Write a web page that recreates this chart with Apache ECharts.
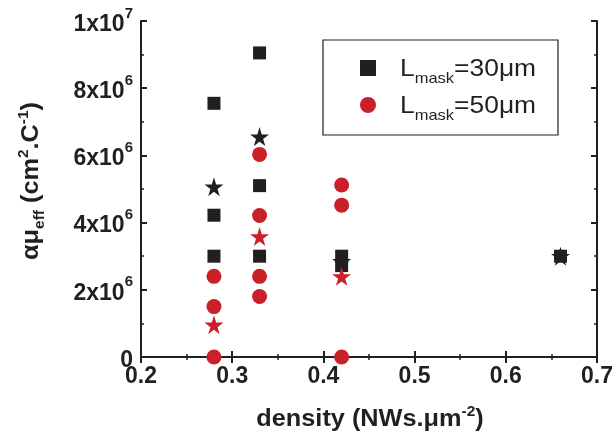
<!DOCTYPE html>
<html><head><meta charset="utf-8">
<script src="https://cdn.jsdelivr.net/npm/echarts@6/dist/echarts.min.js"></script>
<style>html,body{margin:0;padding:0;background:#fff}#c{width:616px;height:437px}</style>
</head><body><div id="c"></div>
<script>
// Data
var sq30X = [0.28, 0.28, 0.28, 0.33, 0.33, 0.33, 0.42, 0.42, 0.66];
var sq30Y = [7.55e6, 4.22e6, 3.0e6, 9.05e6, 5.1e6, 3.0e6, 3.0e6, 2.72e6, 3.0e6];
var circ50X = [0.28, 0.28, 0.28, 0.33, 0.33, 0.33, 0.33, 0.42, 0.42, 0.42];
var circ50Y = [2.4e6, 1.5e6, 0, 6.03e6, 4.21e6, 2.4e6, 1.8e6, 5.12e6, 4.52e6, 0];
var star30X = [0.28, 0.33, 0.42, 0.66];
var star30Y = [5.07e6, 6.56e6, 2.85e6, 3.0e6];
var star50X = [0.28, 0.33, 0.42];
var star50Y = [0.96e6, 3.59e6, 2.4e6];
var xTicks = [0.2, 0.3, 0.4, 0.5, 0.6, 0.7];
var yTickLabels = {0: '0', 2e6: '2x10^6', 4e6: '4x10^6', 6e6: '6x10^6', 8e6: '8x10^6', 1e7: '1x10^7'};
var seriesNames = ['L30', 'L50'];
var legendLabels = ['=30μm', '=50μm'];

var BLACK = '#231f20', RED = '#c9202a';
var STAR = 'path://M50,0 L61,35 L98,35 L68,57 L79,91 L50,70 L21,91 L32,57 L2,35 L39,35 Z';
function zip(xs, ys){ return xs.map(function(x,i){ return [x, ys[i]]; }); }

var chart = echarts.init(document.getElementById('c'), null, {renderer:'canvas'});
var FONT = 'Liberation Sans';
var axisCommon = {
  axisLine:{show:true, lineStyle:{color:BLACK, width:2}},
  axisTick:{show:true, inside:true, length:6, lineStyle:{color:BLACK, width:2}},
  minorTick:{show:true, splitNumber:2, length:3, lineStyle:{color:BLACK, width:1.5}},
  splitLine:{show:false}
};
function legendText(i, y){
  return {type:'text', x:400, y:y, scaleX:1.1, style:{
    text:'{l|L}{sub|mask}{l|' + legendLabels[i] + '}', align:'left', verticalAlign:'middle',
    rich:{
      l:{fontFamily:FONT, fontSize:24, fill:BLACK, lineHeight:34, verticalAlign:'middle'},
      sub:{fontFamily:FONT, fontSize:15, fill:BLACK, lineHeight:12, verticalAlign:'bottom'}
    }}};
}
var option = {
  animation:false,
  backgroundColor:'#fff',
  grid:{left:141, right:19, top:21, bottom:80, containLabel:false},
  xAxis:[
    Object.assign({type:'value', position:'bottom', min:0.2, max:0.7, interval:0.1,
      axisLabel:{margin:8, fontFamily:FONT, fontWeight:'bold', fontSize:23, color:BLACK,
        formatter:function(v){ return xTicks.indexOf(Math.round(v*10)/10)>=0 ? v.toFixed(1) : ''; }}}, axisCommon),
    Object.assign({type:'value', position:'top', min:0.2, max:0.7, interval:0.1, axisLabel:{show:false}}, axisCommon)
  ],
  yAxis:[
    Object.assign({type:'value', position:'left', min:0, max:1e7, interval:2e6,
      axisLabel:{margin:8, fontFamily:FONT, fontWeight:'bold', color:BLACK,
        formatter:function(v){
          var s = yTickLabels[v]; if (s===undefined) return '';
          if (s.indexOf('^')<0) return '{m|'+s+'}';
          var p = s.split('^'); return '{m|'+p[0]+'}{s|'+p[1]+'}';
        },
        rich:{
          m:{fontFamily:FONT, fontWeight:'bold', fontSize:23, color:BLACK, lineHeight:30, verticalAlign:'bottom'},
          s:{fontFamily:FONT, fontWeight:'bold', fontSize:15, color:BLACK, lineHeight:12, verticalAlign:'top'}
        }}}, axisCommon),
    Object.assign({type:'value', position:'right', min:0, max:1e7, interval:2e6, axisLabel:{show:false}}, axisCommon)
  ],
  legend:{
    orient:'vertical', left:360, top:60, padding:0, itemWidth:16, itemHeight:16, itemGap:21,
    data:[{name:seriesNames[0], icon:'rect'}, {name:seriesNames[1], icon:'circle'}],
    formatter:function(){ return ''; }
  },
  graphic:[
    {type:'rect', shape:{x:323, y:40, width:235, height:95}, style:{fill:'none', stroke:BLACK, lineWidth:1.2}, z:-1},
    legendText(0, 69),
    legendText(1, 106),
    {type:'text', x:32, y:181, rotation:Math.PI/2, scaleX:1.1, style:{
      text:'{a|αμ}{sub|eff}{a| (cm}{sup|2}{a|.C}{sup|-1}{a|)}', align:'center', verticalAlign:'middle',
      rich:{
        a:{fontFamily:FONT, fontWeight:'bold', fontSize:23, fill:BLACK, lineHeight:30, verticalAlign:'middle'},
        sub:{fontFamily:FONT, fontWeight:'bold', fontSize:14, fill:BLACK, lineHeight:12, verticalAlign:'bottom'},
        sup:{fontFamily:FONT, fontWeight:'bold', fontSize:14, fill:BLACK, lineHeight:12, verticalAlign:'top'}
      }}},
    {type:'text', x:370, y:420, scaleX:1.1, style:{
      text:'{a|density (NWs.μm}{sup|-2}{a|)}', align:'center', verticalAlign:'middle',
      rich:{
        a:{fontFamily:FONT, fontWeight:'bold', fontSize:23, fill:BLACK, lineHeight:30, verticalAlign:'middle'},
        sup:{fontFamily:FONT, fontWeight:'bold', fontSize:14, fill:BLACK, lineHeight:12, verticalAlign:'top'}
      }}}
  ],
  series:[
    {name:'star30', type:'scatter', symbol:STAR, symbolSize:19, data:zip(star30X, star30Y), itemStyle:{color:BLACK, opacity:1}, z:2},
    {name:seriesNames[0], type:'scatter', symbol:'rect', symbolSize:13, data:zip(sq30X, sq30Y), itemStyle:{color:BLACK, opacity:1}, z:3},
    {name:seriesNames[1], type:'scatter', symbol:'circle', symbolSize:15, data:zip(circ50X, circ50Y), itemStyle:{color:RED, opacity:1}, z:4},
    {name:'star50', type:'scatter', symbol:STAR, symbolSize:19, data:zip(star50X, star50Y), itemStyle:{color:RED, opacity:1}, z:5}
  ]
};
chart.setOption(option);
</script></body></html>
